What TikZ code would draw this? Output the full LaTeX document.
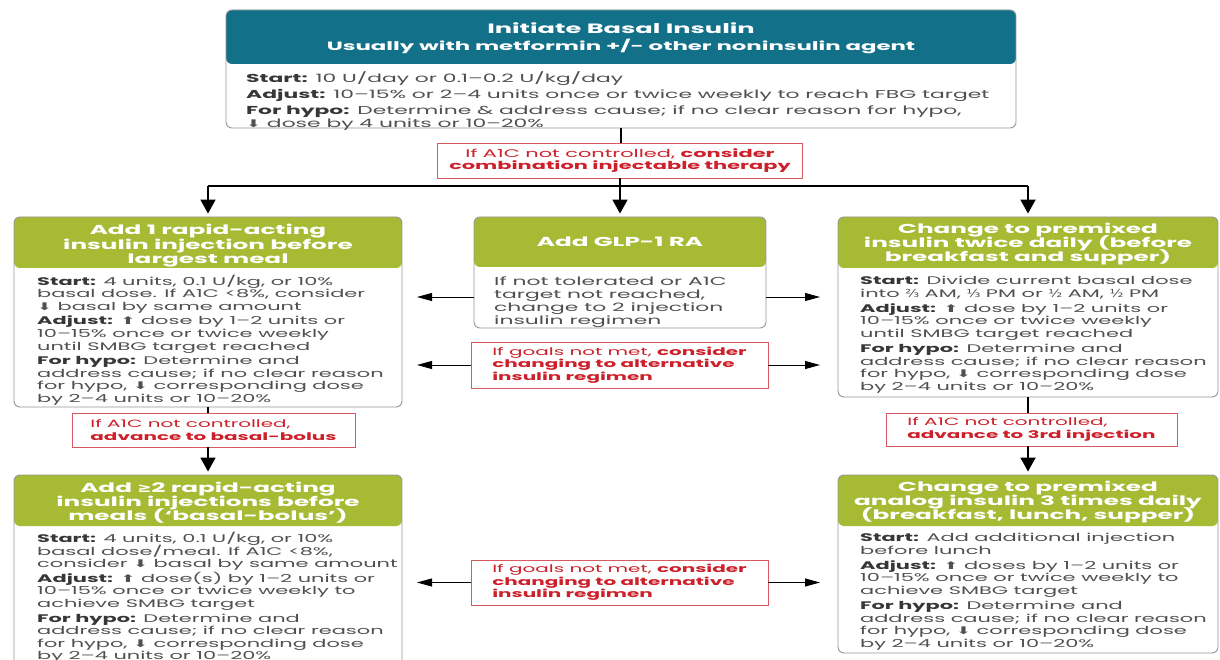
\documentclass[tikz,border=0pt]{standalone}
\usepackage{fontspec}
\setmainfont{Poppins}[FakeStretch=1.9]
\newfontfamily\symfont{DejaVu Sans}[FakeStretch=1.3]
\newfontfamily\arrowfont{DejaVu Sans}[FakeStretch=1.7]
\usetikzlibrary{shapes,arrows.meta,positioning}
\definecolor{basalteal}{RGB}{18,113,137}
\definecolor{stepgreen}{RGB}{167,186,52}
\definecolor{alertred}{RGB}{205,32,42}
\definecolor{alertline}{RGB}{214,90,96}
\definecolor{cardgray}{RGB}{150,150,150}
\definecolor{bodygray}{RGB}{80,80,80}
\definecolor{labelgray}{RGB}{55,55,55}
\newcommand{\lbl}[1]{\textbf{\color{labelgray}#1}}
\newcommand{\up}{{\arrowfont\fontsize{10.5}{10}\selectfont ⬆}}
\newcommand{\dn}{{\arrowfont\fontsize{10.5}{10}\selectfont ⬇}}
\lineskiplimit=-20pt

\begin{document}
\begin{tikzpicture}[x=1pt,y=-1pt,
  card/.style 2 args={draw=cardgray,line width=0.9pt,fill=white,rounded corners=6pt,inner sep=0pt,
    path picture={\fill[#1] (path picture bounding box.north west) rectangle ([yshift=-#2]path picture bounding box.north east);}},
  hdr/.style={text=white,font=\fontsize{13}{14.5}\selectfont\bfseries,align=center,inner sep=0pt},
  bodytext/.style={text=bodygray,font=\fontsize{11}{12.6}\selectfont,align=left,anchor=north west,inner sep=0pt},
  alert/.style={draw=alertline,line width=0.9pt,fill=white,text=alertred,font=\fontsize{10.5}{12.5}\selectfont,inner sep=0pt},
  trunk/.style={line width=1.8pt},
  downarr/.style={line width=1.8pt,-{Triangle[length=14pt,width=15pt]},shorten >=3pt},
  sidearr/.style={line width=1pt,-{Triangle[length=15pt,width=8pt]}}]
\useasboundingbox (0,0) rectangle (1220,660);

% cards
\node[card={basalteal}{54pt},minimum width=790pt,minimum height=118pt] (basal) at (621,69) {};
\node[card={stepgreen}{51pt},minimum width=388pt,minimum height=190pt] (rapid) at (208,312) {};
\node[card={stepgreen}{50pt},minimum width=292pt,minimum height=111pt] (glp) at (620,272.5) {};
\node[card={stepgreen}{51pt},minimum width=380pt,minimum height=180pt] (premix) at (1028,307) {};
\node[card={stepgreen}{51pt},minimum width=388pt,minimum height=205pt] (bolus) at (208,577.5) {};
\node[card={stepgreen}{51pt},minimum width=380pt,minimum height=178pt] (analog) at (1028,564) {};

% headers
\node[hdr,font=\fontsize{13.5}{17}\selectfont\bfseries] (basal-h) at (621,38) {Initiate Basal Insulin\\
  {\fontsize{12}{17}\selectfont Usually with metformin +/- other noninsulin agent}};
\node[hdr] (rapid-h) at (208,246) {Add 1 rapid-acting\\ insulin injection before\\ largest meal};
\node[hdr] (glp-h) at (620,242) {Add GLP-1 RA};
\node[hdr,font=\fontsize{13}{14}\selectfont\bfseries] (premix-h) at (1028,244.5) {Change to premixed\\ insulin twice daily (before\\ breakfast and supper)};
\node[hdr,font=\fontsize{13}{14}\selectfont\bfseries] (bolus-h) at (208,502.5) {Add {\symfont ≥}2 rapid-acting\\ insulin injections before\\ meals (‘basal-bolus’)};
\node[hdr,font=\fontsize{13}{14}\selectfont\bfseries] (analog-h) at (1028,502.5) {Change to premixed\\ analog insulin 3 times daily\\ (breakfast, lunch, supper)};

% body texts
\node[bodytext,font=\fontsize{11.5}{12.7}\selectfont] (basal-b) at (246,71) {\lbl{Start:} 10 U/day or 0.1–0.2 U/kg/day\\[3.5pt]
  \lbl{Adjust:} 10–15\% or 2–4 units once or twice weekly to reach FBG target\\[3.5pt]
  \lbl{For hypo:} Determine \& address cause; if no clear reason for hypo,\\
  \dn{} dose by 4 units or 10–20\%};
\node[bodytext] (rapid-b) at (37,274.5) {\lbl{Start:} 4 units, 0.1 U/kg, or 10\%\\
  basal dose. If A1C <8\%, consider\\
  \dn{} basal by same amount\\[2pt]
  \lbl{Adjust:} \up{} dose by 1–2 units or\\
  10–15\% once or twice weekly\\
  until SMBG target reached\\[2pt]
  \lbl{For hypo:} Determine and\\
  address cause; if no clear reason\\
  for hypo, \dn{} corresponding dose\\
  by 2–4 units or 10–20\%};
\node[bodytext,font=\fontsize{11.5}{12.7}\selectfont] (glp-b) at (494,277) {If not tolerated or A1C\\ target not reached,\\ change to 2 injection\\ insulin regimen};
\node[bodytext] (premix-b) at (860,276) {\lbl{Start:} Divide current basal dose\\
  into {\symfont ⅔} AM, {\symfont ⅓} PM or {\symfont ½} AM, {\symfont ½} PM\\[2.5pt]
  \lbl{Adjust:} \up{} dose by 1–2 units or\\
  10–15\% once or twice weekly\\
  until SMBG target reached\\[2.5pt]
  \lbl{For hypo:} Determine and\\
  address cause; if no clear reason\\
  for hypo, \dn{} corresponding dose\\
  by 2–4 units or 10–20\%};
\node[bodytext] (bolus-b) at (37,532) {\lbl{Start:} 4 units, 0.1 U/kg, or 10\%\\
  basal dose/meal. If A1C <8\%,\\
  consider \dn{} basal by same amount\\[2pt]
  \lbl{Adjust:} \up{} dose(s) by 1–2 units or\\
  10–15\% once or twice weekly to\\
  achieve SMBG target\\[2pt]
  \lbl{For hypo:} Determine and\\
  address cause; if no clear reason\\
  for hypo, \dn{} corresponding dose\\
  by 2–4 units or 10–20\%};
\node[bodytext] (analog-b) at (860,533) {\lbl{Start:} Add additional injection\\
  before lunch\\[2.5pt]
  \lbl{Adjust:} \up{} doses by 1–2 units or\\
  10–15\% once or twice weekly to\\
  achieve SMBG target\\[2.5pt]
  \lbl{For hypo:} Determine and\\
  address cause; if no clear reason\\
  for hypo, \dn{} corresponding dose\\
  by 2–4 units or 10–20\%};

% red decision boxes
\node[alert,font=\fontsize{11}{12.8}\selectfont,align=center,minimum width=365pt,minimum height=35pt] (ctrl1) at (620,160.5) {If A1C not controlled, \textbf{consider}\\ \textbf{combination injectable therapy}};
\node[alert,align=left,minimum width=297pt,minimum height=46pt] (goals1) at (619.5,365) {If goals not met, \textbf{consider}\\ \textbf{changing to alternative}\\ \textbf{insulin regimen}};
\node[alert,align=left,minimum width=283pt,minimum height=34pt] (ctrl2) at (213.5,430) {If A1C not controlled,\\ \textbf{advance to basal-bolus}};
\node[alert,align=left,minimum width=291pt,minimum height=33pt] (ctrl3) at (1031.5,429.5) {If A1C not controlled,\\ \textbf{advance to 3rd injection}};
\node[alert,align=left,minimum width=297pt,minimum height=45pt] (goals2) at (619.5,582.5) {If goals not met, \textbf{consider}\\ \textbf{changing to alternative}\\ \textbf{insulin regimen}};

% connectors
\coordinate (split) at (620,186);
\draw[trunk] (basal.south) -- (basal.south |- ctrl1.north);
\draw[trunk] (ctrl1.south) -- (split);
\draw[trunk] (rapid.north |- split) -- (premix.north |- split);
\draw[downarr] (rapid.north |- split) -- (rapid.north);
\draw[downarr] (split) -- (glp.north);
\draw[downarr] (premix.north |- split) -- (premix.north);

\coordinate (lt1) at (417,297);
\coordinate (rt1) at (820,297);
\coordinate (lt2) at (417,365);
\coordinate (rt2) at (820,365);
\coordinate (lt3) at (417,582.5);
\coordinate (rt3) at (820,582.5);
\draw[sidearr] (glp.west |- lt1) -- (lt1);
\draw[sidearr] (glp.east |- rt1) -- (rt1);
\draw[sidearr] (goals1.west) -- (lt2);
\draw[sidearr] (goals1.east) -- (rt2);
\draw[sidearr] (goals2.west) -- (lt3);
\draw[sidearr] (goals2.east) -- (rt3);

\draw[trunk] (rapid.south) -- (rapid.south |- ctrl2.north);
\draw[downarr] (rapid.south |- ctrl2.south) -- (bolus.north);
\draw[trunk] (premix.south) -- (premix.south |- ctrl3.north);
\draw[downarr] (premix.south |- ctrl3.south) -- (analog.north);
\end{tikzpicture}
\end{document}
